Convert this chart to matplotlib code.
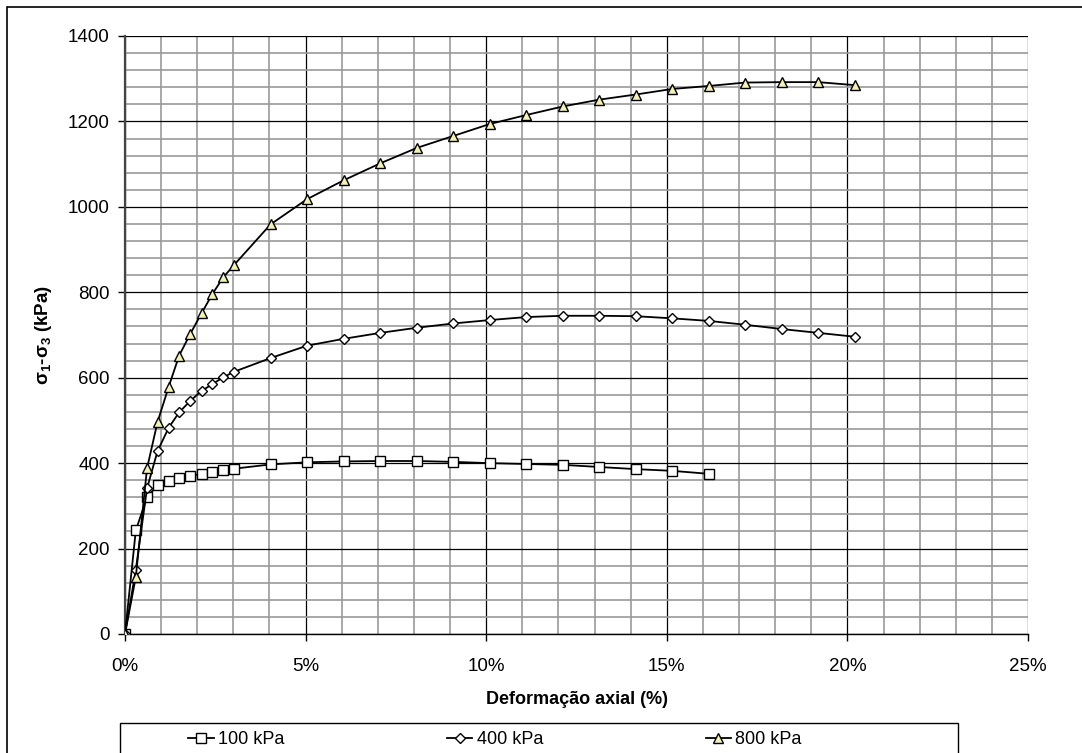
import numpy as np
from matplotlib import pyplot as plt
from matplotlib.patches import Rectangle
from matplotlib.ticker import MultipleLocator, FuncFormatter

plt.rcParams['font.family'] = ['Liberation Sans', 'DejaVu Sans']
plt.rcParams['mathtext.fontset'] = 'custom'
plt.rcParams['mathtext.rm'] = 'Liberation Sans'
plt.rcParams['mathtext.bf'] = 'Liberation Sans:bold'

# deformação axial (%) e tensão desviadora (kPa)
strain = [0, 0.3, 0.61, 0.9, 1.21, 1.5, 1.81, 2.12, 2.42, 2.72, 3.02, 4.03, 5.04, 6.05,
          7.07, 8.08, 9.09, 10.1, 11.11, 12.12, 13.13, 14.14, 15.15, 16.16, 17.17,
          18.18, 19.19, 20.2]

dev_100 = [0, 243, 320, 348, 359, 366, 370, 375, 380, 384, 387, 397, 402, 404,
           405, 405, 403, 400, 398, 396, 391, 386, 382, 375]
dev_400 = [0, 151, 341, 428, 483, 519, 546, 569, 585, 601, 614, 646, 675, 691,
           705, 717, 727, 735, 742, 745, 745, 744, 739, 733, 724, 714, 705, 696]
dev_800 = [0, 134, 388, 496, 579, 652, 703, 751, 796, 835, 864, 959, 1018, 1062,
           1102, 1138, 1166, 1194, 1215, 1235, 1251, 1263, 1276, 1283, 1291,
           1292, 1292, 1285]

labels = ['100 kPa', '400 kPa', '800 kPa']

fig = plt.figure(figsize=(10.82, 7.53), dpi=100)
ax = fig.add_axes([125 / 1082, 1 - 634 / 753, (1028 - 125) / 1082, (634 - 36) / 753])

ax.set_xlim(0, 25)
ax.set_ylim(0, 1400)
ax.xaxis.set_major_locator(MultipleLocator(5))
ax.xaxis.set_minor_locator(MultipleLocator(1))
ax.yaxis.set_major_locator(MultipleLocator(200))
ax.yaxis.set_minor_locator(MultipleLocator(40))
ax.xaxis.set_major_formatter(FuncFormatter(lambda v, p: f'{v:.0f}%'))

ax.grid(which='minor', color='#999999', linewidth=1.2, zorder=0)
ax.grid(which='major', color='black', linewidth=0.9, zorder=0.5)
ax.set_axisbelow(True)

ax.tick_params(which='major', direction='out', length=5, width=1, labelsize=13.5)
ax.tick_params(axis='x', pad=12)
ax.tick_params(axis='y', pad=6)
ax.tick_params(which='minor', length=0)
for side in ['top', 'right']:
    ax.spines[side].set_visible(False)
ax.spines['left'].set_color('#444444')
ax.spines['left'].set_linewidth(1.6)
ax.spines['bottom'].set_linewidth(1.0)

n100 = len(dev_100)
ax.plot(strain[:n100], dev_100, color='black', lw=1.3, marker='s', ms=6.5,
        mfc='white', mec='black', mew=1.0, label=labels[0], zorder=3)
ax.plot(strain, dev_400, color='black', lw=1.3, marker='D', ms=5,
        mfc='white', mec='black', mew=1.0, label=labels[1], zorder=3)
ax.plot(strain, dev_800, color='black', lw=1.3, marker='^', ms=6.5,
        mfc='#F4F1B4', mec='black', mew=1.0, label=labels[2], zorder=3)

ax.set_xlabel('Deformação axial (%)', fontsize=13, fontweight='bold', labelpad=12)
ax.set_ylabel(r'$\mathbf{σ_1}$-$\mathbf{σ_3}$ (kPa)', fontsize=13.5, fontweight='bold', labelpad=10)

leg = ax.legend(loc='center', ncol=3, frameon=False, fontsize=13,
                bbox_to_anchor=(495 / 1082, 1 - 740 / 753), bbox_transform=fig.transFigure,
                handlelength=1.4, handletextpad=0.25, columnspacing=9.0)

# caixa da legenda e moldura do gráfico
fig.patches.append(Rectangle((120 / 1082, -0.05), (958 - 120) / 1082, 0.05 + (753 - 723) / 753,
                             transform=fig.transFigure, fill=False, edgecolor='black', lw=1.0))
fig.patches.append(Rectangle((7 / 1082, -0.05), 1.1, 1.05 - 7 / 753,
                             transform=fig.transFigure, fill=False, edgecolor='black', lw=1.2))

fig.savefig('out.png', dpi=100)
